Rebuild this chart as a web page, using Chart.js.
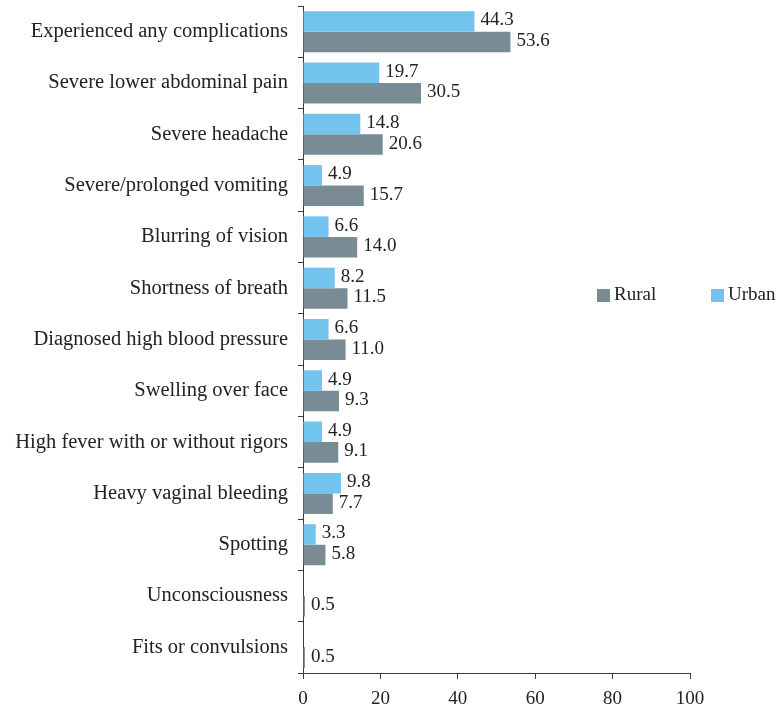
<!DOCTYPE html>
<html>
<head>
<meta charset="utf-8">
<script src="https://cdn.jsdelivr.net/npm/chart.js@4"></script>
<style>
html,body{margin:0;padding:0;background:#fff;}
#wrap{width:781px;height:715px;}
</style>
</head>
<body>
<div id="wrap"><canvas id="c" width="781" height="715"></canvas></div>
<script>
const categories = [
  "Experienced any complications",
  "Severe lower abdominal pain",
  "Severe headache",
  "Severe/prolonged vomiting",
  "Blurring of vision",
  "Shortness of breath",
  "Diagnosed high blood pressure",
  "Swelling over face",
  "High fever with or without rigors",
  "Heavy vaginal bleeding",
  "Spotting",
  "Unconsciousness",
  "Fits or convulsions"
];
const urbanValues = [44.3, 19.7, 14.8, 4.9, 6.6, 8.2, 6.6, 4.9, 4.9, 9.8, 3.3, null, null];
const ruralValues = [53.6, 30.5, 20.6, 15.7, 14.0, 11.5, 11.0, 9.3, 9.1, 7.7, 5.8, 0.5, 0.5];
const xTicks = [0, 20, 40, 60, 80, 100];

const FONT = "'Liberation Serif', 'DejaVu Serif', serif";
const URBAN = "#72C4EF";
const RURAL = "#798B95";
const AXIS = "#3a3a3a";

const valueLabels = {
  id: 'valueLabels',
  afterDatasetsDraw(chart) {
    const ctx = chart.ctx;
    ctx.save();
    ctx.font = "19px " + FONT;
    ctx.fillStyle = "#222";
    ctx.textAlign = "left";
    ctx.textBaseline = "middle";
    chart.data.datasets.forEach((ds, i) => {
      const meta = chart.getDatasetMeta(i);
      meta.data.forEach((el, j) => {
        const v = ds.data[j];
        if (v === null || v === undefined) return;
        ctx.fillText(v.toFixed(1), el.x + 6, el.y - 1);
      });
    });
    ctx.restore();
  }
};

const customLegend = {
  id: 'customLegend',
  afterDraw(chart) {
    const ctx = chart.ctx;
    ctx.save();
    ctx.font = "19px " + FONT;
    ctx.textBaseline = "middle";
    ctx.textAlign = "left";
    const items = [
      {label: "Rural", color: RURAL, x: 597},
      {label: "Urban", color: URBAN, x: 711}
    ];
    const y = 295;
    items.forEach(it => {
      ctx.fillStyle = it.color;
      ctx.fillRect(it.x, y - 6, 13, 13);
      ctx.fillStyle = "#222";
      ctx.fillText(it.label, it.x + 17, y);
    });
    ctx.restore();
  }
};

new Chart(document.getElementById('c'), {
  type: 'bar',
  data: {
    labels: categories,
    datasets: [
      {label: "Urban", data: urbanValues, backgroundColor: URBAN, borderWidth: 0},
      {label: "Rural", data: ruralValues, backgroundColor: RURAL, borderWidth: 0}
    ]
  },
  options: {
    indexAxis: 'y',
    responsive: false,
    animation: false,
    events: [],
    layout: {padding: {top: 6, right: 91, left: 0, bottom: 0}},
    datasets: {bar: {categoryPercentage: 0.8, barPercentage: 1.0}},
    plugins: {
      legend: {display: false},
      tooltip: {enabled: false}
    },
    scales: {
      x: {
        min: 0, max: 100,
        afterBuildTicks(scale) { scale.ticks = xTicks.map(v => ({value: v})); },
        afterFit(scale) { scale.height = 42; scale.paddingLeft = 0; scale.paddingRight = 0; },
        border: {display: true, color: AXIS, width: 1},
        grid: {drawOnChartArea: false, drawTicks: true, tickLength: 6, color: AXIS},
        ticks: {color: "#222", font: {family: FONT, size: 19}, padding: 9}
      },
      y: {
        afterFit(scale) { scale.width = 303; scale.paddingTop = 0; scale.paddingBottom = 0; },
        border: {display: true, color: AXIS, width: 1},
        grid: {drawOnChartArea: false, drawTicks: true, tickLength: 5, color: AXIS, offset: true},
        ticks: {color: "#222", font: {family: FONT, size: 20.5}, padding: 10}
      }
    }
  },
  plugins: [valueLabels, customLegend]
});
</script>
</body>
</html>
